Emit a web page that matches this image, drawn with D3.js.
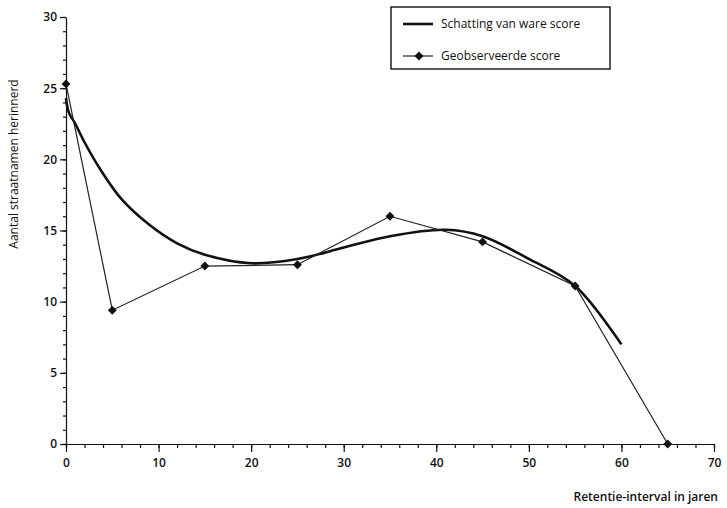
<!DOCTYPE html>
<html lang="nl">
<head>
<meta charset="UTF-8">
<title>Retentie straatnamen</title>
<script src="https://cdn.jsdelivr.net/npm/d3@7"></script>
<style>
  body { margin: 0; background: #fff; }
  svg text { font-family: "Open Sans", "Noto Sans", sans-serif; fill: #111; }
  .tick text { font-size: 12px; font-weight: 600; }
  .axis path, .axis line { stroke: #111; stroke-width: 1.2; }
</style>
</head>
<body>
<svg width="727" height="508"></svg>
<script>
// geobserveerde score
const obsYears = [0, 5, 15, 25, 35, 45, 55, 65];
const obsScore = [25.3, 9.4, 12.5, 12.6, 16.0, 14.2, 11.1, 0];

const fitYears = [0, 0.3, 1, 2, 3.7, 6, 9, 12, 15, 20, 25, 30, 35, 41, 45, 50, 55, 60];
const fitScore = [24.3, 23.3, 22.5, 21.2, 19.3, 17.2, 15.4, 14.1, 13.3, 12.7, 13.0, 13.8, 14.6, 15.05, 14.6, 13.0, 11.1, 7.0];

const xMajor = [0, 10, 20, 30, 40, 50, 60, 70];
const yMajor = [0, 5, 10, 15, 20, 25, 30];

const svg = d3.select("svg");

const x = d3.scaleLinear().domain([0, 70]).range([66, 714]);
const y = d3.scaleLinear().domain([0, 30]).range([444, 17]);

// y-as: kleine streepjes per eenheid, grote per 5
svg.append("g")
  .attr("class", "axis")
  .attr("transform", "translate(66,0)")
  .call(d3.axisLeft(y).tickValues(d3.range(0, 31, 1)).tickSize(3).tickFormat(""))
  .call(g => g.select(".domain").remove());

svg.append("g")
  .attr("class", "axis")
  .attr("transform", "translate(66,0)")
  .call(d3.axisLeft(y).tickValues(yMajor).tickSize(6).tickPadding(3).tickSizeOuter(0));

// x-as: kleine streepjes per 2, grote per 10
svg.append("g")
  .attr("class", "axis")
  .attr("transform", "translate(0,444)")
  .call(d3.axisBottom(x).tickValues(d3.range(0, 71, 2)).tickSize(4).tickFormat(""))
  .call(g => g.select(".domain").remove());

svg.append("g")
  .attr("class", "axis")
  .attr("transform", "translate(0,444)")
  .call(d3.axisBottom(x).tickValues(xMajor).tickSize(8).tickPadding(6).tickSizeOuter(0));

// astitels
svg.append("text")
  .attr("transform", "translate(18,164) rotate(-90)")
  .attr("text-anchor", "middle")
  .style("font-size", "12px")
  .text("Aantal straatnamen herinnerd");

svg.append("text")
  .attr("x", 718)
  .attr("y", 501)
  .attr("text-anchor", "end")
  .style("font-size", "12px")
  .style("font-weight", 600)
  .text("Retentie-interval in jaren");

// geschatte ware score
const fit = fitYears.map((d, i) => ({ x: d, y: fitScore[i] }));
svg.append("path")
  .datum(fit)
  .attr("fill", "none")
  .attr("stroke", "#111")
  .attr("stroke-width", 2.6)
  .attr("d", d3.line().x(d => x(d.x)).y(d => y(d.y)).curve(d3.curveCatmullRom.alpha(0.5)));

// geobserveerde score
const obs = obsYears.map((d, i) => ({ x: d, y: obsScore[i] }));
svg.append("path")
  .datum(obs)
  .attr("fill", "none")
  .attr("stroke", "#222")
  .attr("stroke-width", 1.2)
  .attr("d", d3.line().x(d => x(d.x)).y(d => y(d.y)));

// ruitjes: gedraaid vierkant
const diamond = d3.symbol().type(d3.symbolSquare).size(40);
svg.selectAll(".pt")
  .data(obs)
  .join("path")
  .attr("class", "pt")
  .attr("transform", d => `translate(${x(d.x)},${y(d.y)}) rotate(45)`)
  .attr("d", diamond)
  .attr("fill", "#111");

// legenda
const legend = svg.append("g");
legend.append("rect")
  .attr("x", 391).attr("y", 7)
  .attr("width", 219).attr("height", 62)
  .attr("fill", "#fff")
  .attr("stroke", "#111")
  .attr("stroke-width", 1.4);

legend.append("line")
  .attr("x1", 403).attr("x2", 433).attr("y1", 24).attr("y2", 24)
  .attr("stroke", "#111").attr("stroke-width", 2.6);
legend.append("text")
  .attr("x", 441).attr("y", 28)
  .style("font-size", "12px")
  .text("Schatting van ware score");

legend.append("line")
  .attr("x1", 403).attr("x2", 433).attr("y1", 56).attr("y2", 56)
  .attr("stroke", "#222").attr("stroke-width", 1.2);
legend.append("path")
  .attr("transform", "translate(419,56) rotate(45)")
  .attr("d", diamond)
  .attr("fill", "#111");
legend.append("text")
  .attr("x", 441).attr("y", 60)
  .style("font-size", "12px")
  .text("Geobserveerde score");
</script>
</body>
</html>
